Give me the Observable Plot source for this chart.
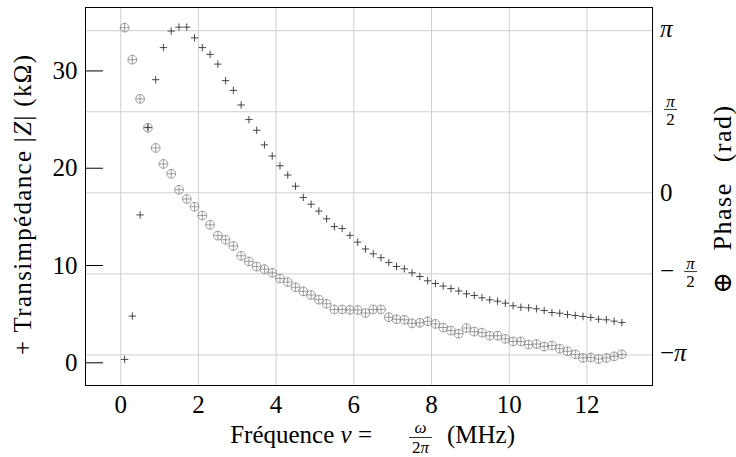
<!DOCTYPE html>
<html><head><meta charset="utf-8">
<script src="https://cdn.jsdelivr.net/npm/d3@7"></script>
<script src="https://cdn.jsdelivr.net/npm/@observablehq/plot@0.6"></script>
<style>
html,body{margin:0;padding:0;background:#fff;}
#chart{width:736px;height:457px;}
</style></head><body><div id="chart"></div>
<script>
// Frequency (MHz)
const freq = [0.1,0.3,0.5,0.7,0.9,1.1,1.3,1.5,1.7,1.9,
  2.1,2.3,2.5,2.7,2.9,3.1,3.3,3.5,3.7,3.9,
  4.1,4.3,4.5,4.7,4.9,5.1,5.3,5.5,5.7,5.9,
  6.1,6.3,6.5,6.7,6.9,7.1,7.3,7.5,7.7,7.9,
  8.1,8.3,8.5,8.7,8.9,9.1,9.3,9.5,9.7,9.9,
  10.1,10.3,10.5,10.7,10.9,11.1,11.3,11.5,11.7,11.9,
  12.1,12.3,12.5,12.7,12.9];
// |Z| (kOhm)
const magnitude = [0.35,4.8,15.2,24.2,29.1,32.4,34.1,34.5,34.5,33.4,
  32.4,31.7,30.7,29.0,28.0,26.5,25.0,23.9,22.4,21.25,
  20.25,19.3,18.15,17.0,16.3,15.6,14.8,14.0,13.8,13.1,
  12.4,11.7,11.2,10.8,10.3,9.9,9.66,9.25,8.87,8.43,
  8.15,7.89,7.63,7.38,7.09,6.92,6.68,6.47,6.33,6.13,
  5.86,5.71,5.65,5.55,5.38,5.17,5.10,4.96,4.86,4.76,
  4.66,4.48,4.42,4.28,4.14];
// Phase (rad)
const phase = [3.20,2.58,1.82,1.26,0.87,0.56,0.37,0.06,-0.12,-0.27,
  -0.44,-0.62,-0.83,-0.91,-1.03,-1.22,-1.33,-1.43,-1.48,-1.55,
  -1.66,-1.73,-1.83,-1.91,-1.98,-2.07,-2.15,-2.26,-2.26,-2.27,
  -2.27,-2.33,-2.26,-2.26,-2.41,-2.45,-2.46,-2.53,-2.52,-2.49,
  -2.54,-2.61,-2.67,-2.73,-2.62,-2.69,-2.71,-2.77,-2.77,-2.83,
  -2.88,-2.88,-2.94,-2.93,-2.98,-2.96,-3.02,-3.07,-3.13,-3.20,
  -3.19,-3.22,-3.20,-3.17,-3.13];

const xTicks = [0,2,4,6,8,10,12];
const magTicks = [0,10,20,30];
const phaseTicks = [Math.PI, Math.PI/2, 0, -Math.PI/2, -Math.PI];
const phaseTickLabels = [
  {sign:"", num:"π", den:null},
  {sign:"", num:"π", den:"2"},
  {sign:"", num:"0", den:null},
  {sign:"−", num:"π", den:"2"},
  {sign:"−", num:"π", den:null}
];
const xDomain = [-0.906, 13.688];
const magDomain = [-2.333, 36.52];
const phaseDomain = [-3.734, 3.591];

const FONT = "'Liberation Serif', 'DejaVu Serif', serif";
const toMag = d3.scaleLinear().domain(phaseDomain).range(magDomain);
const rows = freq.map((f, i) => ({f, mag: magnitude[i], ph: toMag(phase[i])}));

const crossSymbol = {
  draw(ctx, size) {
    const r = Math.sqrt(size / Math.PI);
    ctx.moveTo(-r, 0); ctx.lineTo(r, 0);
    ctx.moveTo(0, -r); ctx.lineTo(0, r);
  }
};

const W = 736, H = 457, ML = 85, MR = 84, MT = 7, MB = 72, TICK = 18;

const chart = Plot.plot({
  width: W, height: H,
  marginLeft: ML, marginRight: MR, marginTop: MT, marginBottom: MB,
  style: {fontFamily: FONT, fontSize: "25px", background: "white", color: "black"},
  x: {domain: xDomain},
  y: {domain: magDomain},
  marks: [
    Plot.gridX(xTicks, {stroke: "#cfcfcf", strokeOpacity: 1, strokeWidth: 1}),
    Plot.gridY(phaseTicks.map(toMag), {stroke: "#cfcfcf", strokeOpacity: 1, strokeWidth: 1}),
    Plot.axisX(xTicks, {tickSize: 0, tickPadding: 10, fontSize: 25, fontFamily: FONT, label: null}),
    Plot.axisY(magTicks, {tickSize: 0, tickPadding: 8, fontSize: 25, fontFamily: FONT, label: null}),
    Plot.ruleY(magTicks, {stroke: "black", strokeWidth: 1, insetRight: W - ML - MR - TICK}),
    Plot.dot(rows, {x: "f", y: "ph", r: 4.4, stroke: "#858585", strokeWidth: 0.8, fill: "none"}),
    Plot.dot(rows, {x: "f", y: "ph", r: 4.4, symbol: crossSymbol, stroke: "#858585", strokeWidth: 0.8, fill: "none"}),
    Plot.dot(rows, {x: "f", y: "mag", r: 3.7, symbol: crossSymbol, stroke: "#333", strokeWidth: 0.9, fill: "none"}),
    Plot.frame({stroke: "black", strokeWidth: 1})
  ]
});

document.getElementById("chart").appendChild(chart);

const svg = d3.select(chart);
const yS = chart.scale("y");
const g = svg.append("g").attr("font-family", FONT).attr("fill", "black")
  .attr("text-anchor", "start").attr("stroke", "none");

// Right (phase) tick labels
phaseTicks.forEach((t, i) => {
  const py = yS.apply(toMag(t));
  const lab = phaseTickLabels[i];
  if (!lab.den) {
    const tx = g.append("text").attr("x", 660).attr("y", py + (lab.num === "0" ? 8.5 : 7)).attr("font-size", 25);
    if (lab.sign) tx.append("tspan").text(lab.sign);
    tx.append("tspan").attr("font-style", lab.num === "π" ? "italic" : null).text(lab.num);
  } else {
    let cx = 670.5;
    if (lab.sign) {
      g.append("text").attr("x", 660).attr("y", py + 5.5).attr("font-size", 25).text(lab.sign);
      cx = 690.5;
    }
    g.append("text").attr("x", cx).attr("y", py - 4.5).attr("font-size", 17).attr("text-anchor", "middle").attr("font-style", "italic").text(lab.num);
    g.append("line").attr("x1", cx - 6.5).attr("x2", cx + 6.5).attr("y1", py - 1.8).attr("y2", py - 1.8).attr("stroke", "black").attr("stroke-width", 0.8);
    g.append("text").attr("x", cx).attr("y", py + 14).attr("font-size", 17).attr("text-anchor", "middle").text(lab.den);
  }
});

// Left axis title
const lt = g.append("text").attr("transform", "translate(31,205) rotate(-90)")
  .attr("text-anchor", "middle").attr("font-size", 25)
  .attr("textLength", 300).attr("lengthAdjust", "spacing");
lt.append("tspan").text("+ Transimpédance |");
lt.append("tspan").attr("font-style", "italic").text("Z");
lt.append("tspan").text("| (kΩ)");

// Right axis title
const rt = g.append("text").attr("transform", "translate(731,199) rotate(-90)")
  .attr("text-anchor", "middle").attr("font-size", 26)
  .attr("letter-spacing", 1.5).attr("word-spacing", 12);
rt.append("tspan").text("⊕ Phase (rad)");

// Bottom axis title
const bt = g.append("text").attr("x", 372).attr("y", 443).attr("text-anchor", "end").attr("font-size", 25);
bt.append("tspan").text("Fréquence ");
bt.append("tspan").attr("font-style", "italic").text("ν");
bt.append("tspan").text(" =");
g.append("text").attr("x", 420.5).attr("y", 433).attr("text-anchor", "middle").attr("font-size", 17).attr("font-style", "italic").text("ω");
g.append("line").attr("x1", 409).attr("x2", 432).attr("y1", 437.5).attr("y2", 437.5).attr("stroke", "black").attr("stroke-width", 0.8);
const den = g.append("text").attr("x", 420.5).attr("y", 453).attr("text-anchor", "middle").attr("font-size", 17);
den.append("tspan").text("2");
den.append("tspan").attr("font-style", "italic").text("π");
g.append("text").attr("x", 447).attr("y", 443).attr("font-size", 25).text("(MHz)");
</script>
</body></html>
